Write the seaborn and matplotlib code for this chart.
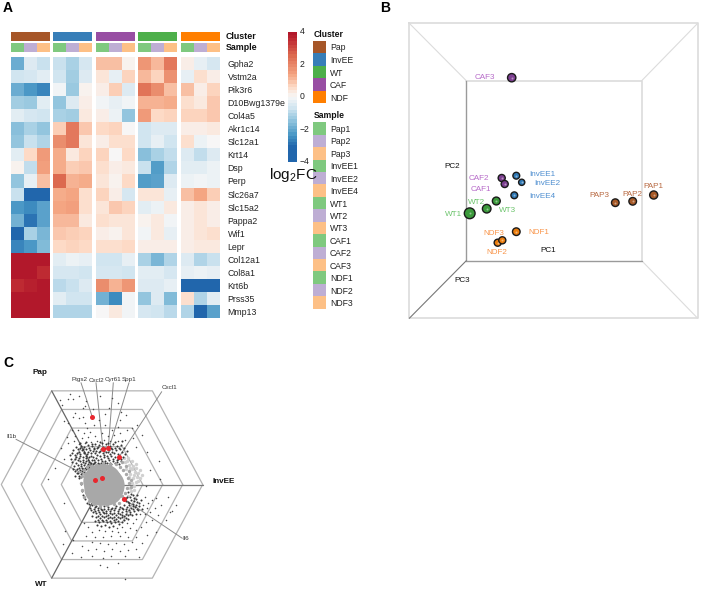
import numpy as np
import pandas as pd
import matplotlib
matplotlib.use('Agg')
import matplotlib.pyplot as plt
import seaborn as sns
from matplotlib.colors import ListedColormap, LinearSegmentedColormap

sns.set_theme(style='white')
plt.rcParams['font.family'] = ['Liberation Sans', 'DejaVu Sans']

# Panel A data
genes = ['Gpha2', 'Vstm2a', 'Pik3r6', 'D10Bwg1379e', 'Col4a5', 'Akr1c14', 'Slc12a1', 'Krt14', 'Dsp', 'Perp',
         'Slc26a7', 'Slc15a2', 'Pappa2', 'Wif1', 'Lepr', 'Col12a1', 'Col8a1', 'Krt6b', 'Prss35', 'Mmp13']
pap_vals = [[-2.0, -0.5, -0.8], [-0.7, -0.6, -0.4], [-2.0, -2.4, -2.7], [-1.3, -1.4, -0.4], [-0.4, -0.6, -0.7],
            [-1.6, -1.2, -1.5], [-1.5, -0.8, -1.1], [-0.4, 0.6, 1.6], [0.1, -0.9, 1.5], [-1.5, -0.3, 1.0],
            [-0.8, -3.2, -3.3], [-2.4, -2.6, -2.2], [-1.9, -3.0, -2.2], [-3.3, -1.2, -1.8], [-2.7, -2.4, -1.7],
            [4, 4, 4], [4, 4, 3.6], [3.6, 3.8, 4], [4, 4, 4], [4, 4, 4]]
invee_vals = [[-0.8, -1.2, -0.6], [-0.7, -1.3, -0.5], [-0.1, -1.4, 0.1], [-1.5, -0.5, 0.2], [-1.2, -1.3, 0.3],
              [0.8, 2.3, 0.9], [1.9, 2.3, 0.4], [1.3, 0.3, 0.7], [1.3, 0.8, 0.9], [2.6, 1.2, 1.3],
              [1.3, 1.4, 0.5], [1.4, 1.5, 0.5], [1.1, 1.1, 0.3], [0.9, 0.8, 0.7], [0.6, 0.7, 0.6],
              [-0.4, -0.2, -0.3], [-0.6, -0.6, -0.7], [-1.0, -0.8, -0.5], [-0.4, -0.7, -0.7], [-1.1, -1.1, -1.1]]
caf_vals = [[1.0, 1.0, 0.1], [0.4, -0.3, 0.7], [0.2, 0.8, -0.5], [-0.1, -0.3, -0.1], [0.2, -0.2, -1.5],
            [0.6, 0.7, 0.0], [0.2, 0.5, 0.5], [0.7, 0.0, 0.6], [0.5, 0.2, 0.3], [0.4, 0.1, 0.6],
            [0.7, 0.2, -0.6], [0.4, 0.9, 0.7], [0.5, 0.4, 0.4], [0.2, 0.1, 0.4], [0.5, 0.5, 0.6],
            [-0.7, -0.7, -0.3], [-0.6, -0.6, -0.7], [1.9, 1.2, 1.7], [-1.9, -2.6, -0.1], [0.0, 0.3, -0.1]]
wt_vals = [[1.7, 1.1, 2.3], [1.1, 0.7, 1.8], [2.4, 1.9, 1.0], [1.2, 1.2, 1.3], [1.6, 0.6, 0.7],
           [-0.7, -0.5, -0.5], [-0.7, -0.3, -0.7], [-1.6, -1.2, -0.9], [-0.8, -2.3, -1.1], [-2.3, -2.2, -0.5],
           [0.4, 0.4, -0.3], [-0.4, -0.2, 0.3], [0.1, 0.3, -0.1], [-0.1, 0.3, -0.3], [0.2, 0.2, 0.2],
           [-1.2, -1.8, -1.1], [-0.4, -0.4, -0.6], [-0.5, -0.5, -0.3], [-1.5, -0.5, -1.7], [-0.6, -0.7, -1.0]]
ndf_vals = [[0.2, -0.3, -0.6], [-0.3, 0.5, 0.2], [1.0, 0.2, 0.7], [0.5, 0.3, 0.9], [0.7, 0.7, 0.9],
            [0.2, 0.2, 0.3], [0.5, -0.2, 0.0], [-0.5, -0.9, -0.5], [-0.4, -0.4, -0.2], [-0.2, -0.1, -0.2],
            [1.0, 1.4, 0.8], [0.2, 0.4, 0.2], [0.2, 0.4, 0.2], [0.2, 0.4, 0.5], [0.2, 0.3, 0.3],
            [-0.5, -1.1, -0.8], [-0.3, -0.2, -0.3], [-3.4, -3.4, -3.4], [0.5, -1.1, -0.4], [-1.1, -3.3, -2.2]]

cluster_names = ['Pap', 'InvEE', 'WT', 'CAF', 'NDF']
cluster_colors = ['#a65628', '#377eb8', '#4daf4a', '#984ea3', '#ff7f00']
sample_names = ['Pap1', 'Pap2', 'Pap3', 'InvEE1', 'InvEE2', 'InvEE4', 'WT1', 'WT2', 'WT3',
                'CAF1', 'CAF2', 'CAF3', 'NDF1', 'NDF2', 'NDF3']
sample_colors = ['#7fc97f', '#beaed4', '#fdc086']

# Panel B data, read in picture pixels
pca_names = ['CAF3', 'CAF2', 'CAF1', 'InvEE1', 'InvEE2', 'InvEE4', 'WT1', 'WT2', 'WT3',
             'NDF1', 'NDF2', 'NDF3', 'PAP1', 'PAP2', 'PAP3']
pca_group = ['CAF', 'CAF', 'CAF', 'InvEE', 'InvEE', 'InvEE', 'WT', 'WT', 'WT',
             'NDF', 'NDF', 'NDF', 'Pap', 'Pap', 'Pap']
pca_x = [511.7, 501.7, 504.7, 516.3, 521.7, 514.3, 469.7, 486.7, 496.3, 516.3, 497.7, 502.3, 653.7, 632.7, 615.3]
pca_y = [77.7, 178, 184, 175.7, 182.3, 195.3, 213.3, 208.7, 201, 231.7, 242.7, 240.3, 195, 201.3, 202.7]
pca_size = [36, 26, 26, 24, 20, 24, 60, 38, 32, 30, 26, 26, 34, 30, 30]
pca_label_x = [484.7, 478.7, 480.7, 542.7, 547, 542, 454, 476.3, 507.3, 539, 497, 493.7, 653, 632.3, 599.3]
pca_label_y = [77.7, 178.7, 189.3, 174, 183.3, 196.7, 214.3, 202.3, 210.7, 232.7, 252, 233.3, 186.7, 194, 195.7]

# Panel C data, read in picture pixels
gene_pts_x = [92.3, 103, 108.3, 118.7, 95.3, 102.3, 124]
gene_pts_y = [417, 449, 447.7, 457.3, 480.3, 478.3, 499]
gene_names = ['Ptgs2', 'Cxcl2', 'Cyr61', 'Spp1', 'Cxcl1', 'Il1b', 'Il6']
sparse_pts = [
    (73,399),(68,399),(79,396),(86,401),(85,406),(83,408),(75,413),(73,417),(79,418),(83,417),(64,421),(68,423),
    (85,423),(87,428),(60,400),(62,405),(70,394),(112,398),(118,403),(121,412),(126,415),(120,420),(109,408),
    (118,427),(112,430),(105,425),(99,420),(94,425),(90,432),(84,433),(78,430),(72,430),(67,437),(75,436),
    (82,438),(88,437),(95,436),(102,433),(108,436),(114,435),(120,433),(127,430),(132,428),(137,425),(142,435),
    (133,438),(125,440),(118,441),(110,441),(104,440),(97,441),(91,442),(85,443),(79,444),(74,441),(68,443),
    (61,448),(159,461),(147,452),(136,447),(150,470),(48,479),(55,468),(64,459),(100,396),(93,409),(105,414),
    (145,497),(148,503),(152,500),(156,498),(145,514),(150,512),(155,508),(161,505),(158,515),(152,520),(146,522),
    (141,527),(136,530),(130,528),(125,532),(118,532),(112,531),(105,531),(99,530),(92,532),(88,527),(84,523),
    (86,536),(95,537),(103,537),(111,536),(120,536),(128,537),(136,537),(147,535),(156,532),(166,520),(172,511),
    (176,505),(168,497),(92,542),(100,543),(108,544),(116,543),(124,544),(132,542),(142,543),(65,531),(73,540),
    (82,546),(88,550),(96,549),(104,551),(112,549),(120,551),(128,550),(136,549),(63,544),(72,553),(81,557),
    (92,556),(103,558),(111,556),(125,556),(139,557),(100,565),(107,567),(118,563),(125,579),(64,503),(146,486),
    (160,479),(170,512),(143,505),(147,508),(140,514),(136,519),(133,523),(127,523),(122,527),(117,528)]
dense_pts = [
    (81,446),(84,447),(88,445),(92,446),(95,444),(99,445),(102,443),(106,444),(110,446),(113,444),(117,446),
    (121,445),(78,449),(82,450),(86,449),(90,450),(94,449),(97,448),(101,449),(105,448),(109,450),(112,449),
    (116,450),(120,449),(124,448),(77,453),(80,454),(84,453),(87,454),(91,453),(95,453),(99,452),(103,453),
    (106,452),(110,454),(114,453),(118,454),(122,452),(127,451),(76,457),(79,458),(83,457),(86,458),(89,457),
    (93,457),(96,458),(100,456),(104,457),(108,458),(111,456),(115,457),(119,456),(123,457),(80,461),(83,462),
    (86,461),(89,462),(92,460),(95,462),(98,460),(102,461),(105,461),(109,460),(113,461),(117,460),(121,461),
    (78,465),(81,466),(84,465),(87,466),(90,465),(93,464),(96,465),(99,464),(103,464),(107,463),(111,464),
    (115,463),(119,464),(77,469),(80,470),(83,469),(86,469),(89,467),(92,467),(72,462),(74,466),(70,455),
    (73,450),(75,471),(78,473),(81,474),(75,476),(79,478),(82,491),(83,495),(85,499),(87,503),(81,484),
    (79.5,455.5),(82.5,459.5),(85.5,456),(88,459.5),(91,455.5),(94,460),(97,455),(100.5,459),(103.5,455),(107,456),
    (109.5,463),(112.5,458.5),(116.5,462),(84,451.5),(87.5,451.5),(92.5,451),(96,450.5),(100,451),(104,450.5),
    (108,452),(111.5,451.5),(81,463.5),(84.5,463),(88,464),(91,462.5),(94,463),(97.5,462.5),(101,463),(105,463),
    (82,468),(85,467.5),(88,468),(91,469),(79,467.5),(76,462.5),(78,460),(74.5,459),(75,455),(78.5,451.5),
    (83,448.5),(89,447.5),(93.5,447.5),(98,447),(103,447),(107.5,446.5),(111,447.5),(115,448),(118.5,447.5),
    (81.5,471),(84,471.5),(78.5,475.5),(76.5,473),(80.5,476.5),(73,469),(71,459),(72,453),(80,443),(86,442),
    (92,443.5),(100,442),(108,442.5),(115,442),(122,441),(76,447),(79.5,448),(118,459),(121,458.5),(125,454),
    (127,497),(128,492),(131,494),(134,498),(137,495),(126,501),(129,503),(133,504),(137,502),(141,500),
    (124,505),(127,507),(131,508),(135,507),(139,506),(123,509),(120,507),(116,506),(112,508),(108,507),
    (104,506),(100,507),(96,506),(92,505),(89,504),(90,508),(94,509),(98,510),(102,510),(106,511),(110,511),
    (114,510),(118,511),(122,512),(126,511),(130,512),(134,511),(138,510),(142,509),(93,512),(96,513),(100,514),
    (104,513),(108,515),(112,514),(116,515),(120,514),(124,516),(128,515),(132,515),(136,514),(92,516),(96,517),
    (100,518),(104,517),(108,518),(112,518),(116,519),(120,518),(124,520),(128,519),(95,521),(99,522),(103,521),
    (107,522),(111,523),(115,522),(119,524),(97,525),(101,526),(105,525),(109,527),(113,526),(91,509.5),(94.5,507),
    (97.5,508),(100.5,508.5),(104,508.5),(107.5,509),(111,509),(115,508),(118.5,508.5),(122,507.5),(125.5,508.5),
    (129,510),(133,509),(136.5,508.5),(95,511),(98.5,512),(102.5,512),(106,513),(110,513),(114,512.5),(118,513),
    (122,514.5),(126,513.5),(130,514),(97.5,515.5),(102,515.5),(106,516),(110,516.5),(114,517),(118,516.5),
    (122,517),(126,517.5),(98,520),(102,519.5),(106,520),(110,520.5),(114,520),(118,521),(122,521.5),(128,502),
    (131,500),(134,501),(130,497),(133,495),(126,498),(129,505),(133,506),(136,505),(139,503),(136,499)]
gray_big_x = [100, 104, 107, 101, 106, 103]
gray_big_y = [481, 481, 485, 488, 488, 484]
gray_small = [(84,470),(87,467),(91,466),(96,465),(120,467),(123,470),(126,474),(128,478),(129,483),(127,488),(125,493),
              (123,499),(84,497),(82,490),(81,483),(82,476),(116,464),(110,464),(103,463),(89,501),(94,504),(100,506),
              (107,505),(114,504),(119,503),(131,480),(129,471),(126,466),(122,462),(131,487),(85,474),(86,492),(122,496)]
haze_pts = [(125,462),(129,465),(132,469),(135,472),(137,477),(136,482),(134,486),(138,473),(140,478),(132,461),
            (128,458),(124,458),(133,466),(136,468),(131,491),(134,490),(140,470),(142,475),(128,496),(130,474),(133,478),
            (127,461),(130,468),(134,475),(132,483),(130,488),(138,481),(136,464),(126,469),(129,477)]

heat_panels = [pap_vals, invee_vals, caf_vals, wt_vals, ndf_vals]
strip_order = [0, 1, 3, 2, 4]  # Pap InvEE CAF WT NDF across the heatmap
panel_left = [10.7, 53.3, 95.7, 138, 180.7]
panel_right = [50, 92.3, 135, 177.3, 220]

W, H = 701, 595
fig = plt.figure(figsize=(W / 100, H / 100), dpi=100)


def px_axes(x0, y0, x1, y1, **kw):
    return fig.add_axes([x0 / W, 1 - y1 / H, (x1 - x0) / W, (y1 - y0) / H], **kw)


# stops placed as the reference colour key reads
stops = [(-4, '#2166ac'), (-3.2, '#2166ac'), (-2.5, '#4393c3'), (-1.5, '#92c5de'), (-0.7, '#d1e5f0'), (0, '#f7f7f7'),
         (0.6, '#fddbc7'), (1.4, '#f4a582'), (2.6, '#dd6a50'), (3.6, '#bf2b33'), (3.95, '#b2182b'), (4, '#b2182b')]
cmap = LinearSegmentedColormap.from_list('fc', [((v + 4) / 8, c) for v, c in stops])

# overlay in picture pixels, for panels B and C and loose text
ov = fig.add_axes([0, 0, 1, 1], zorder=5)
ov.patch.set_alpha(0)

# Panel A
for i, vals in enumerate(heat_panels):
    x0, x1 = panel_left[i], panel_right[i]
    a = px_axes(x0, 57.3, x1, 317.7)
    sns.heatmap(np.array(vals), ax=a, cmap=cmap, vmin=-4, vmax=4, cbar=False,
                xticklabels=False, yticklabels=genes if i == 4 else False)
    if i == 4:
        a.yaxis.tick_right()
        a.tick_params(axis='y', length=0, pad=5.5, labelsize=6.3, labelcolor='#222222', labelrotation=0)
    s1 = px_axes(x0, 32.3, x1, 41)
    sns.heatmap([[0, 0, 0]], ax=s1, cmap=ListedColormap([cluster_colors[strip_order[i]]]), cbar=False,
                xticklabels=False, yticklabels=False)
    s2 = px_axes(x0, 43, x1, 51.7)
    sns.heatmap([[0, 1, 2]], ax=s2, cmap=ListedColormap(sample_colors), cbar=False,
                xticklabels=False, yticklabels=False)

# colour bar
cax = px_axes(288.3, 31.7, 297.3, 161.7)
grad = np.linspace(4, -4, 40).reshape(-1, 1)
sns.heatmap(grad, ax=cax, cmap=cmap, vmin=-4, vmax=4, cbar=False, xticklabels=False, yticklabels=False)

# legends for cluster and sample
lax = px_axes(313.3, 40.7, 325.7, 103.3)
sns.heatmap(np.arange(5).reshape(-1, 1), ax=lax, cmap=ListedColormap(cluster_colors), cbar=False,
            xticklabels=False, yticklabels=cluster_names)
lax.yaxis.tick_right()
lax.tick_params(axis='y', length=0, pad=3, labelsize=6.2, labelcolor='#222222', labelrotation=0)

lax2 = px_axes(313.3, 122.3, 325.7, 308.7)
sns.heatmap(np.arange(15).reshape(-1, 1) % 3, ax=lax2, cmap=ListedColormap(sample_colors), cbar=False,
            xticklabels=False, yticklabels=sample_names)
lax2.yaxis.tick_right()
lax2.tick_params(axis='y', length=0, pad=3, labelsize=6.2, labelcolor='#222222', labelrotation=0)

# Panel B points
pca_df = pd.DataFrame({'x': pca_x, 'y': pca_y, 'group': pca_group, 'size': pca_size})
pca_fill = {'CAF': '#7d3f91', 'InvEE': '#2f78b4', 'WT': '#3c9a3c', 'NDF': '#ec7d0c', 'Pap': '#a85a28'}
pca_text = {'CAF': '#b76bc9', 'InvEE': '#4f8fd0', 'WT': '#6cc46c', 'NDF': '#f9954a', 'Pap': '#b86a42'}
sns.scatterplot(data=pca_df, x='x', y='y', hue='group', palette=pca_fill, size='size', sizes=(20, 60),
                edgecolor='#1a1a1a', linewidth=1, legend=False, ax=ov, zorder=6)
sns.scatterplot(data=pca_df, x='x', y='y', color='#ffffff', alpha=0.45, s=2, linewidth=0, legend=False, ax=ov, zorder=6.5)

# Panel C cloud
haze_df = pd.DataFrame(haze_pts, columns=['x', 'y'])
sns.scatterplot(data=haze_df, x='x', y='y', color='#d0d0d0', s=6, linewidth=0, ax=ov, zorder=2)
sparse_df = pd.DataFrame(sparse_pts, columns=['x', 'y'])
sns.scatterplot(data=sparse_df, x='x', y='y', color='#4a4a4a', s=1.2, linewidth=0, ax=ov, zorder=2)
dense_df = pd.DataFrame(dense_pts, columns=['x', 'y'])
sns.scatterplot(data=dense_df, x='x', y='y', color='#383838', s=2.2, linewidth=0, ax=ov, zorder=2)
sns.scatterplot(x=gray_big_x, y=gray_big_y, color='#a8a8a8', s=610, linewidth=0, ax=ov, zorder=3)
small_df = pd.DataFrame(gray_small, columns=['x', 'y'])
sns.scatterplot(data=small_df, x='x', y='y', color='#a8a8a8', s=6, linewidth=0, ax=ov, zorder=3)
sns.scatterplot(x=gene_pts_x, y=gene_pts_y, color='#e8272e', s=13, linewidth=0, ax=ov, zorder=4)

ov.set_xlim(0, W)
ov.set_ylim(H, 0)
ov.axis('off')

ov.text(225.5, 36.7, 'Cluster', fontsize=6.4, fontweight='bold', va='center', color='#111111')
ov.text(225.5, 47.3, 'Sample', fontsize=6.4, fontweight='bold', va='center', color='#111111')
for v, lab in zip([4, 2, 0, -2, -4], ['4', '2', '0', '\u22122', '\u22124']):
    ov.text(300, 31.7 + (4 - v) / 8 * 130, lab, fontsize=6.2, va='center', color='#222222')
ov.text(269, 175.5, 'log$\\mathregular{_2}$FC', fontsize=11, va='center', color='#111111')
ov.text(313.3, 34.7, 'Cluster', fontsize=6.2, fontweight='bold', va='center', color='#111111')
ov.text(313.3, 116, 'Sample', fontsize=6.2, fontweight='bold', va='center', color='#111111')

# Panel B: box in perspective
box = '#dcdcdc'
ov.plot([409.3, 697.7, 697.7, 409.3, 409.3], [23.3, 23.3, 318.3, 318.3, 23.3], color=box, lw=1.2)
ov.plot([409.3, 466.3], [23.3, 80.7], color=box, lw=0.8)
ov.plot([697.7, 641.7], [23.3, 80.7], color=box, lw=0.8)
ov.plot([697.7, 641.7], [318.3, 260.7], color=box, lw=0.8)
ov.plot([466.3, 641.7, 641.7], [80.7, 80.7, 260.7], color=box, lw=1.2)
ov.plot([466.3, 466.3], [80.7, 260.7], color='#9a9a9a', lw=1)
ov.plot([466.3, 641.7], [260.7, 260.7], color='#9a9a9a', lw=1)
ov.plot([409.3, 466.3], [318.3, 260.7], color='#777777', lw=0.8)
for name, g, tx, ty in zip(pca_names, pca_group, pca_label_x, pca_label_y):
    ov.text(tx, ty, name, color=pca_text[g], fontsize=5.9, ha='center', va='center', zorder=7)
ov.text(452.3, 166, 'PC2', fontsize=5.9, ha='center', va='center', color='#111111')
ov.text(547.7, 250.7, 'PC1', fontsize=5.9, ha='center', va='center', color='#111111')
ov.text(462, 280.7, 'PC3', fontsize=5.9, ha='center', va='center', color='#111111')

# Panel C: hexagon rings and axes
cx, cy = 102, 484.5
hex_ring = '#b4b4b4'
for k in [100.7, 80.7, 60.7, 40.7]:
    hx = [cx + k, cx + k / 2, cx - k / 2, cx - k, cx - k / 2, cx + k / 2, cx + k]
    hy = [cy, cy - k * 0.93, cy - k * 0.93, cy, cy + k * 0.93, cy + k * 0.93, cy]
    ov.plot(hx, hy, color=hex_ring, lw=0.9, zorder=1)
ov.plot([cx, cx + 100.7], [cy, cy], color='#777777', lw=0.9, zorder=1)
ov.plot([cx, cx - 50.3], [cy, cy - 93.6], color='#666666', lw=0.9, zorder=1)
ov.plot([cx, cx - 50.3], [cy, cy + 93.6], color='#666666', lw=0.9, zorder=1)

# leader lines and gene labels
leader = '#8a8a8a'
label_x = [80, 96, 113, 129.3, 169, 11, 185.7]
label_y = [380, 380, 380, 380, 387.3, 437, 538.3]
line_x0 = [81, 96, 113.3, 129, 161.7, 16, 182.3]
line_y0 = [382.7, 382.7, 382.7, 382.7, 391.7, 439.3, 538.3]
line_x1 = [92.3, 103, 108.3, 110, 119, 95, 124]
line_y1 = [417, 449, 447.7, 445, 457, 480, 499]
for x0, y0, x1, y1 in zip(line_x0, line_y0, line_x1, line_y1):
    ov.plot([x0, x1], [y0, y1], color=leader, lw=0.7, zorder=1.5)
for name, tx, ty in zip(gene_names, label_x, label_y):
    ov.text(tx, ty, name, fontsize=4.5, ha='center', va='center', color='#333333', zorder=7)

ov.text(40, 373, 'Pap', fontsize=5.9, fontweight='bold', ha='center', va='center', color='#111111')
ov.text(223.5, 481.5, 'InvEE', fontsize=5.9, fontweight='bold', ha='center', va='center', color='#111111')
ov.text(41, 584.5, 'WT', fontsize=5.9, fontweight='bold', ha='center', va='center', color='#111111')

# panel letters
ov.text(3, 7.5, 'A', fontsize=10, fontweight='bold', va='center', color='#000000')
ov.text(380, 7.5, 'B', fontsize=10, fontweight='bold', va='center', color='#000000')
ov.text(3, 363, 'C', fontsize=10, fontweight='bold', va='center', color='#000000')

fig.savefig('out.png', dpi=100)
